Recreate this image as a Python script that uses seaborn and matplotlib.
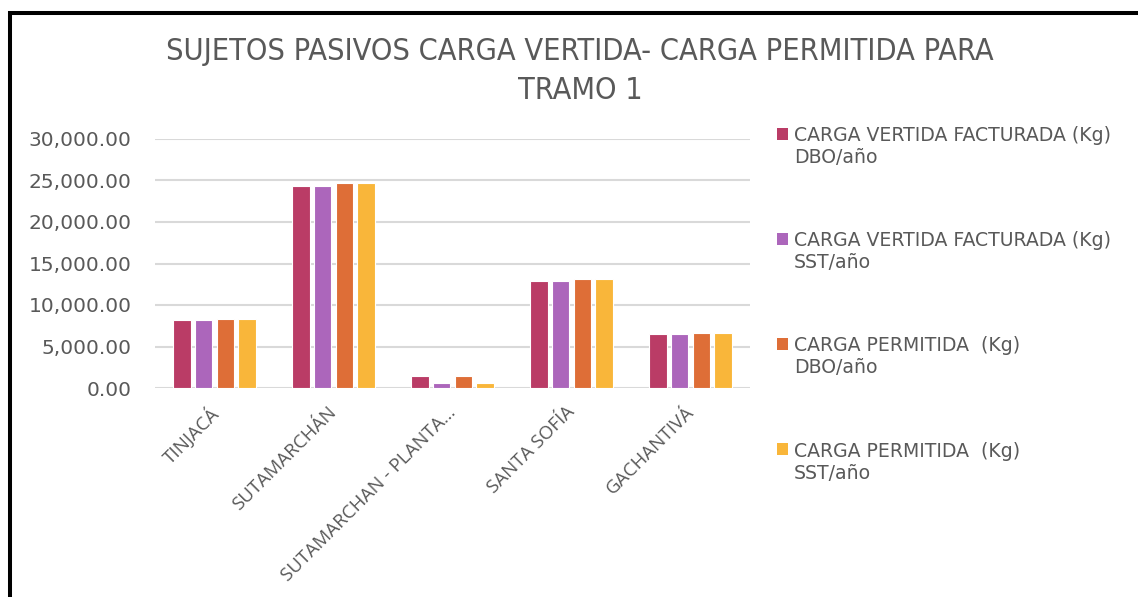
import pandas as pd
import seaborn as sns
import matplotlib.pyplot as plt
from matplotlib.patches import Rectangle
from matplotlib.legend_handler import HandlerPatch
from matplotlib.ticker import FuncFormatter
from matplotlib.transforms import ScaledTranslation

# Data
municipios = ['TINJACÁ', 'SUTAMARCHÁN', 'SUTAMARCHAN - PLANTA…', 'SANTA SOFÍA', 'GACHANTIVÁ']
series = ['CARGA VERTIDA FACTURADA (Kg)\nDBO/año',
          'CARGA VERTIDA FACTURADA (Kg)\nSST/año',
          'CARGA PERMITIDA  (Kg)\nDBO/año',
          'CARGA PERMITIDA  (Kg)\nSST/año']
vertida_dbo = [8150, 24300, 1410, 12940, 6500]
vertida_sst = [8150, 24300, 600, 12940, 6500]
permitida_dbo = [8270, 24660, 1410, 13130, 6630]
permitida_sst = [8270, 24660, 650, 13130, 6630]
colors = ['#BA3C66', '#AC66BB', '#DE6E37', '#F9B63A']

# Long format for seaborn
df = pd.DataFrame({
    'municipio': municipios * 4,
    'serie': [s for s in series for _ in municipios],
    'valor': vertida_dbo + vertida_sst + permitida_dbo + permitida_sst,
})

sns.set_style('white')
plt.rcParams['font.family'] = ['DejaVu Sans']
gray = '#595959'
leg_size = 13.6

fig = plt.figure(figsize=(11.38, 5.97), dpi=100)
ax = fig.add_axes([155 / 1138, 1 - 388 / 597, 595 / 1138, 249 / 597])

sns.barplot(data=df, x='municipio', y='valor', hue='serie', palette=colors,
            saturation=1, width=0.73, gap=0.2, edgecolor='white', linewidth=0.8, ax=ax)

ax.set_ylim(0, 30000)
ax.set_yticks(range(0, 30001, 5000))
ax.yaxis.set_major_formatter(FuncFormatter(lambda v, p: f'{v:,.2f}'))
ax.grid(axis='y', color='#D9D9D9', linewidth=1.5)
ax.set_axisbelow(True)
for side in ['top', 'right', 'left', 'bottom']:
    ax.spines[side].set_visible(False)
ax.tick_params(axis='y', length=0, pad=17, labelsize=14.5, labelcolor=gray)
ax.tick_params(axis='x', length=0, pad=8, labelcolor=gray)
ax.set_xlabel('')
ax.set_ylabel('')
shift = ScaledTranslation(-4.3 / 72, -2.9 / 72, fig.dpi_scale_trans)
for lbl in ax.get_xticklabels():
    lbl.set_rotation(45)
    lbl.set_ha('right')
    lbl.set_rotation_mode('anchor')
    lbl.set_family(['Open Sans', 'DejaVu Sans'])
    lbl.set_fontsize(13.5)
    lbl.set_transform(lbl.get_transform() + shift)


# square marker next to the first line of each two-line label
def top_square(legend, orig_handle, xdescent, ydescent, width, height, fontsize):
    return Rectangle((-xdescent, -ydescent + 0.6 * fontsize * 1.2), width, height)


ax.get_legend().remove()
handles, labels = ax.get_legend_handles_labels()
leg = fig.legend(handles, labels, loc='upper left', bbox_to_anchor=(760 / 1138, 1 - 109 / 597),
                 frameon=False, fontsize=leg_size, labelcolor=gray, handlelength=0.6,
                 handleheight=0.6, handletextpad=0.3, labelspacing=3.4,
                 handler_map={Rectangle: HandlerPatch(patch_func=top_square)})
for h in leg.legend_handles:
    h.set_linewidth(0)

fig.text(580 / 1138, 1 - 71 / 597,
         'SUJETOS PASIVOS CARGA VERTIDA- CARGA PERMITIDA PARA\nTRAMO 1',
         ha='center', va='center', fontsize=22, color=gray, linespacing=1.4,
         family=['Liberation Sans Narrow', 'DejaVu Sans'], fontstretch='condensed')

# black frame (right/bottom sides cut off in the reference)
fig.patches.append(Rectangle((10 / 1138, -0.5), 2, 1.5 - 12.5 / 597, fill=False,
                             edgecolor='black', linewidth=2.9, transform=fig.transFigure))

fig.savefig('out.png', dpi=100)
